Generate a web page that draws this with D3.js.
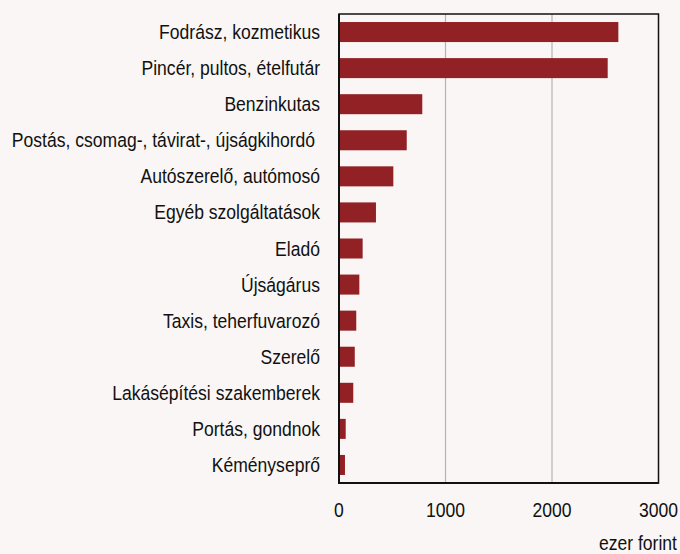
<!DOCTYPE html>
<html><head><meta charset="utf-8">
<script src="https://cdn.jsdelivr.net/npm/d3@7"></script>
<style>
html,body{margin:0;padding:0;background:#faf6f5;}
svg{display:block;}
text{font-family:"Liberation Sans",Arial,sans-serif;fill:#111;white-space:pre;}
</style></head><body>
<script>
const categories = ["Fodrász, kozmetikus","Pincér, pultos, ételfutár","Benzinkutas","Postás, csomag-, távirat-, újságkihordó ","Autószerelő, autómosó","Egyéb szolgáltatások","Eladó","Újságárus","Taxis, teherfuvarozó","Szerelő","Lakásépítési szakemberek","Portás, gondnok","Kéményseprő"];
const values = [2623,2523,782,636,510,347,222,191,162,148,134,63,56];
const xTicks = [0,1000,2000,3000];
const unitLabel = "ezer forint";

const W=680,H=554;
const m={left:339,right:21.5,top:14,bottom:71};
const svg=d3.select("body").append("svg").attr("width",W).attr("height",H);
svg.append("rect").attr("width",W).attr("height",H).attr("fill","#faf6f5");
const x=d3.scaleLinear().domain([0,3000]).range([m.left,W-m.right]);
const y=d3.scaleBand().domain(categories).range([m.top,H-m.bottom]).paddingInner(0.445).paddingOuter(0.2225);
const sx=0.9, fs=19.5;

// gridlines
svg.append("g").selectAll("line").data(xTicks.slice(1,-1)).join("line")
 .attr("x1",d=>x(d)).attr("x2",d=>x(d)).attr("y1",m.top).attr("y2",H-m.bottom)
 .attr("stroke","#b3b3b3").attr("stroke-width",1.2);

// bars
svg.append("g").selectAll("rect").data(categories).join("rect")
 .attr("x",x(0)).attr("y",d=>y(d)).attr("height",y.bandwidth())
 .attr("width",(d,i)=>x(values[i])-x(0)).attr("fill","#922125");

// frame
svg.append("rect").attr("x",m.left).attr("y",m.top).attr("width",x(3000)-m.left).attr("height",H-m.bottom-m.top)
 .attr("fill","none").attr("stroke","#111").attr("stroke-width",1.5);
svg.append("line").attr("x1",m.left).attr("x2",m.left).attr("y1",m.top).attr("y2",H-m.bottom+1).attr("stroke","#111").attr("stroke-width",2);
svg.append("line").attr("x1",m.left).attr("x2",x(3000)).attr("y1",H-m.bottom).attr("y2",H-m.bottom).attr("stroke","#111").attr("stroke-width",2);

// category labels
svg.append("g").selectAll("g").data(categories).join("g")
 .attr("transform",d=>`translate(320,${y(d)+y.bandwidth()/2+7}) scale(${sx},1)`)
 .append("text").attr("text-anchor","end").attr("font-size",fs).text(d=>d);

// x tick labels
svg.append("g").selectAll("g").data(xTicks).join("g")
 .attr("transform",d=>`translate(${x(d)},517) scale(${sx},1)`)
 .append("text").attr("text-anchor","middle").attr("font-size",fs).text(d=>d);

svg.append("g").attr("transform",`translate(677,550) scale(${sx},1)`)
 .append("text").attr("text-anchor","end").attr("font-size",fs).text(unitLabel);
</script>
</body></html>
